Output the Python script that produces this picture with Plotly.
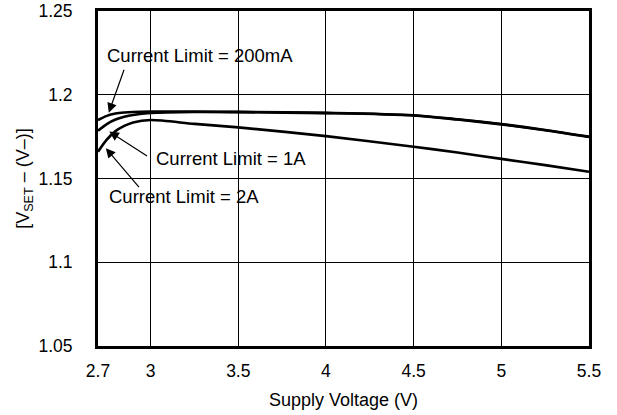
import plotly.graph_objects as go

# Supply voltage (V)
x_vals = [2.7, 2.75, 2.8, 2.85, 2.9, 3.0, 3.25, 3.5, 4.0, 4.5, 4.75, 5.0, 5.25, 5.5]
# [VSET - (V-)] per current limit
y_200mA = [1.1849, 1.1874, 1.1888, 1.1894, 1.1897, 1.1899, 1.1899, 1.1898, 1.1892, 1.1878, 1.1854, 1.1825, 1.1790, 1.1750]
y_1A = [1.1785, 1.1825, 1.1852, 1.1868, 1.1879, 1.1891, 1.1897, 1.1896, 1.1890, 1.1876, 1.1852, 1.1823, 1.1788, 1.1748]
y_2A = [1.1660, 1.1732, 1.1783, 1.1814, 1.1835, 1.1849, 1.1826, 1.1805, 1.1753, 1.1690, 1.1655, 1.1617, 1.1580, 1.1540]

x_ticks = [2.7, 3, 3.5, 4, 4.5, 5, 5.5]
x_tick_text = ["2.7", "3", "3.5", "4", "4.5", "5", "5.5"]
y_ticks = [1.05, 1.1, 1.15, 1.2, 1.25]
y_tick_text = ["1.05", "1.1", "1.15", "1.2", "1.25"]

FONT = "Liberation Sans, Arial, sans-serif"

fig = go.Figure()
for name, ys in [("Current Limit = 200mA", y_200mA), ("Current Limit = 1A", y_1A), ("Current Limit = 2A", y_2A)]:
    fig.add_trace(go.Scatter(x=x_vals, y=ys, mode="lines", name=name,
                             line=dict(color="black", width=2.6, shape="spline", smoothing=0.8),
                             showlegend=False))

axis_common = dict(showline=True, linewidth=3, linecolor="black", mirror=True,
                   showgrid=True, gridcolor="black", gridwidth=1, zeroline=False,
                   automargin=False,
                   ticks="", tickfont=dict(family=FONT, size=17.5, color="black"))

fig.update_xaxes(range=[2.7, 5.5], tickvals=x_ticks, ticktext=x_tick_text,
                 ticklabelstandoff=7,
                 title=dict(text="Supply Voltage (V)", font=dict(family=FONT, size=18, color="black"), standoff=14),
                 **axis_common)
fig.update_yaxes(range=[1.05, 1.25], tickvals=y_ticks, ticktext=y_tick_text,
                 ticklabelstandoff=19, **axis_common)

ann_font = dict(family=FONT, size=18.5, color="black")
texts = [
    ("Current Limit = 200mA", 2.7416, 1.2233),
    ("Current Limit = 1A", 3.0168, 1.1620),
    ("Current Limit = 2A", 2.7513, 1.1390),
]
for t, ax_, ay_ in texts:
    fig.add_annotation(x=ax_, y=ay_, xref="x", yref="y", text=t, showarrow=False,
                       xanchor="left", yanchor="middle", font=ann_font)

arrows = [
    (2.8516, 1.2158, 2.7615, 1.1893),
    (2.9883, 1.1628, 2.7644, 1.1780),
    (2.9410, 1.1440, 2.7444, 1.1681),
]
for tx, ty, hx, hy in arrows:
    fig.add_annotation(x=hx, y=hy, ax=tx, ay=ty, xref="x", yref="y", axref="x", ayref="y",
                       text="", showarrow=True, arrowhead=2, arrowsize=1.6, arrowwidth=1.2,
                       arrowcolor="black")

fig.add_annotation(x=-0.15, y=0.5, xref="paper", yref="paper",
                   text="[V<sub>SET</sub> – (V–)]", showarrow=False, textangle=-90,
                   xanchor="center", yanchor="middle",
                   font=dict(family=FONT, size=18, color="black"))

fig.update_layout(width=617, height=415, margin=dict(l=98, r=28, t=11, b=69, autoexpand=False),
                  paper_bgcolor="white", plot_bgcolor="white")

fig.write_html("out.html", config={"displayModeBar": False},
               post_script="document.body.style.margin='0';")
